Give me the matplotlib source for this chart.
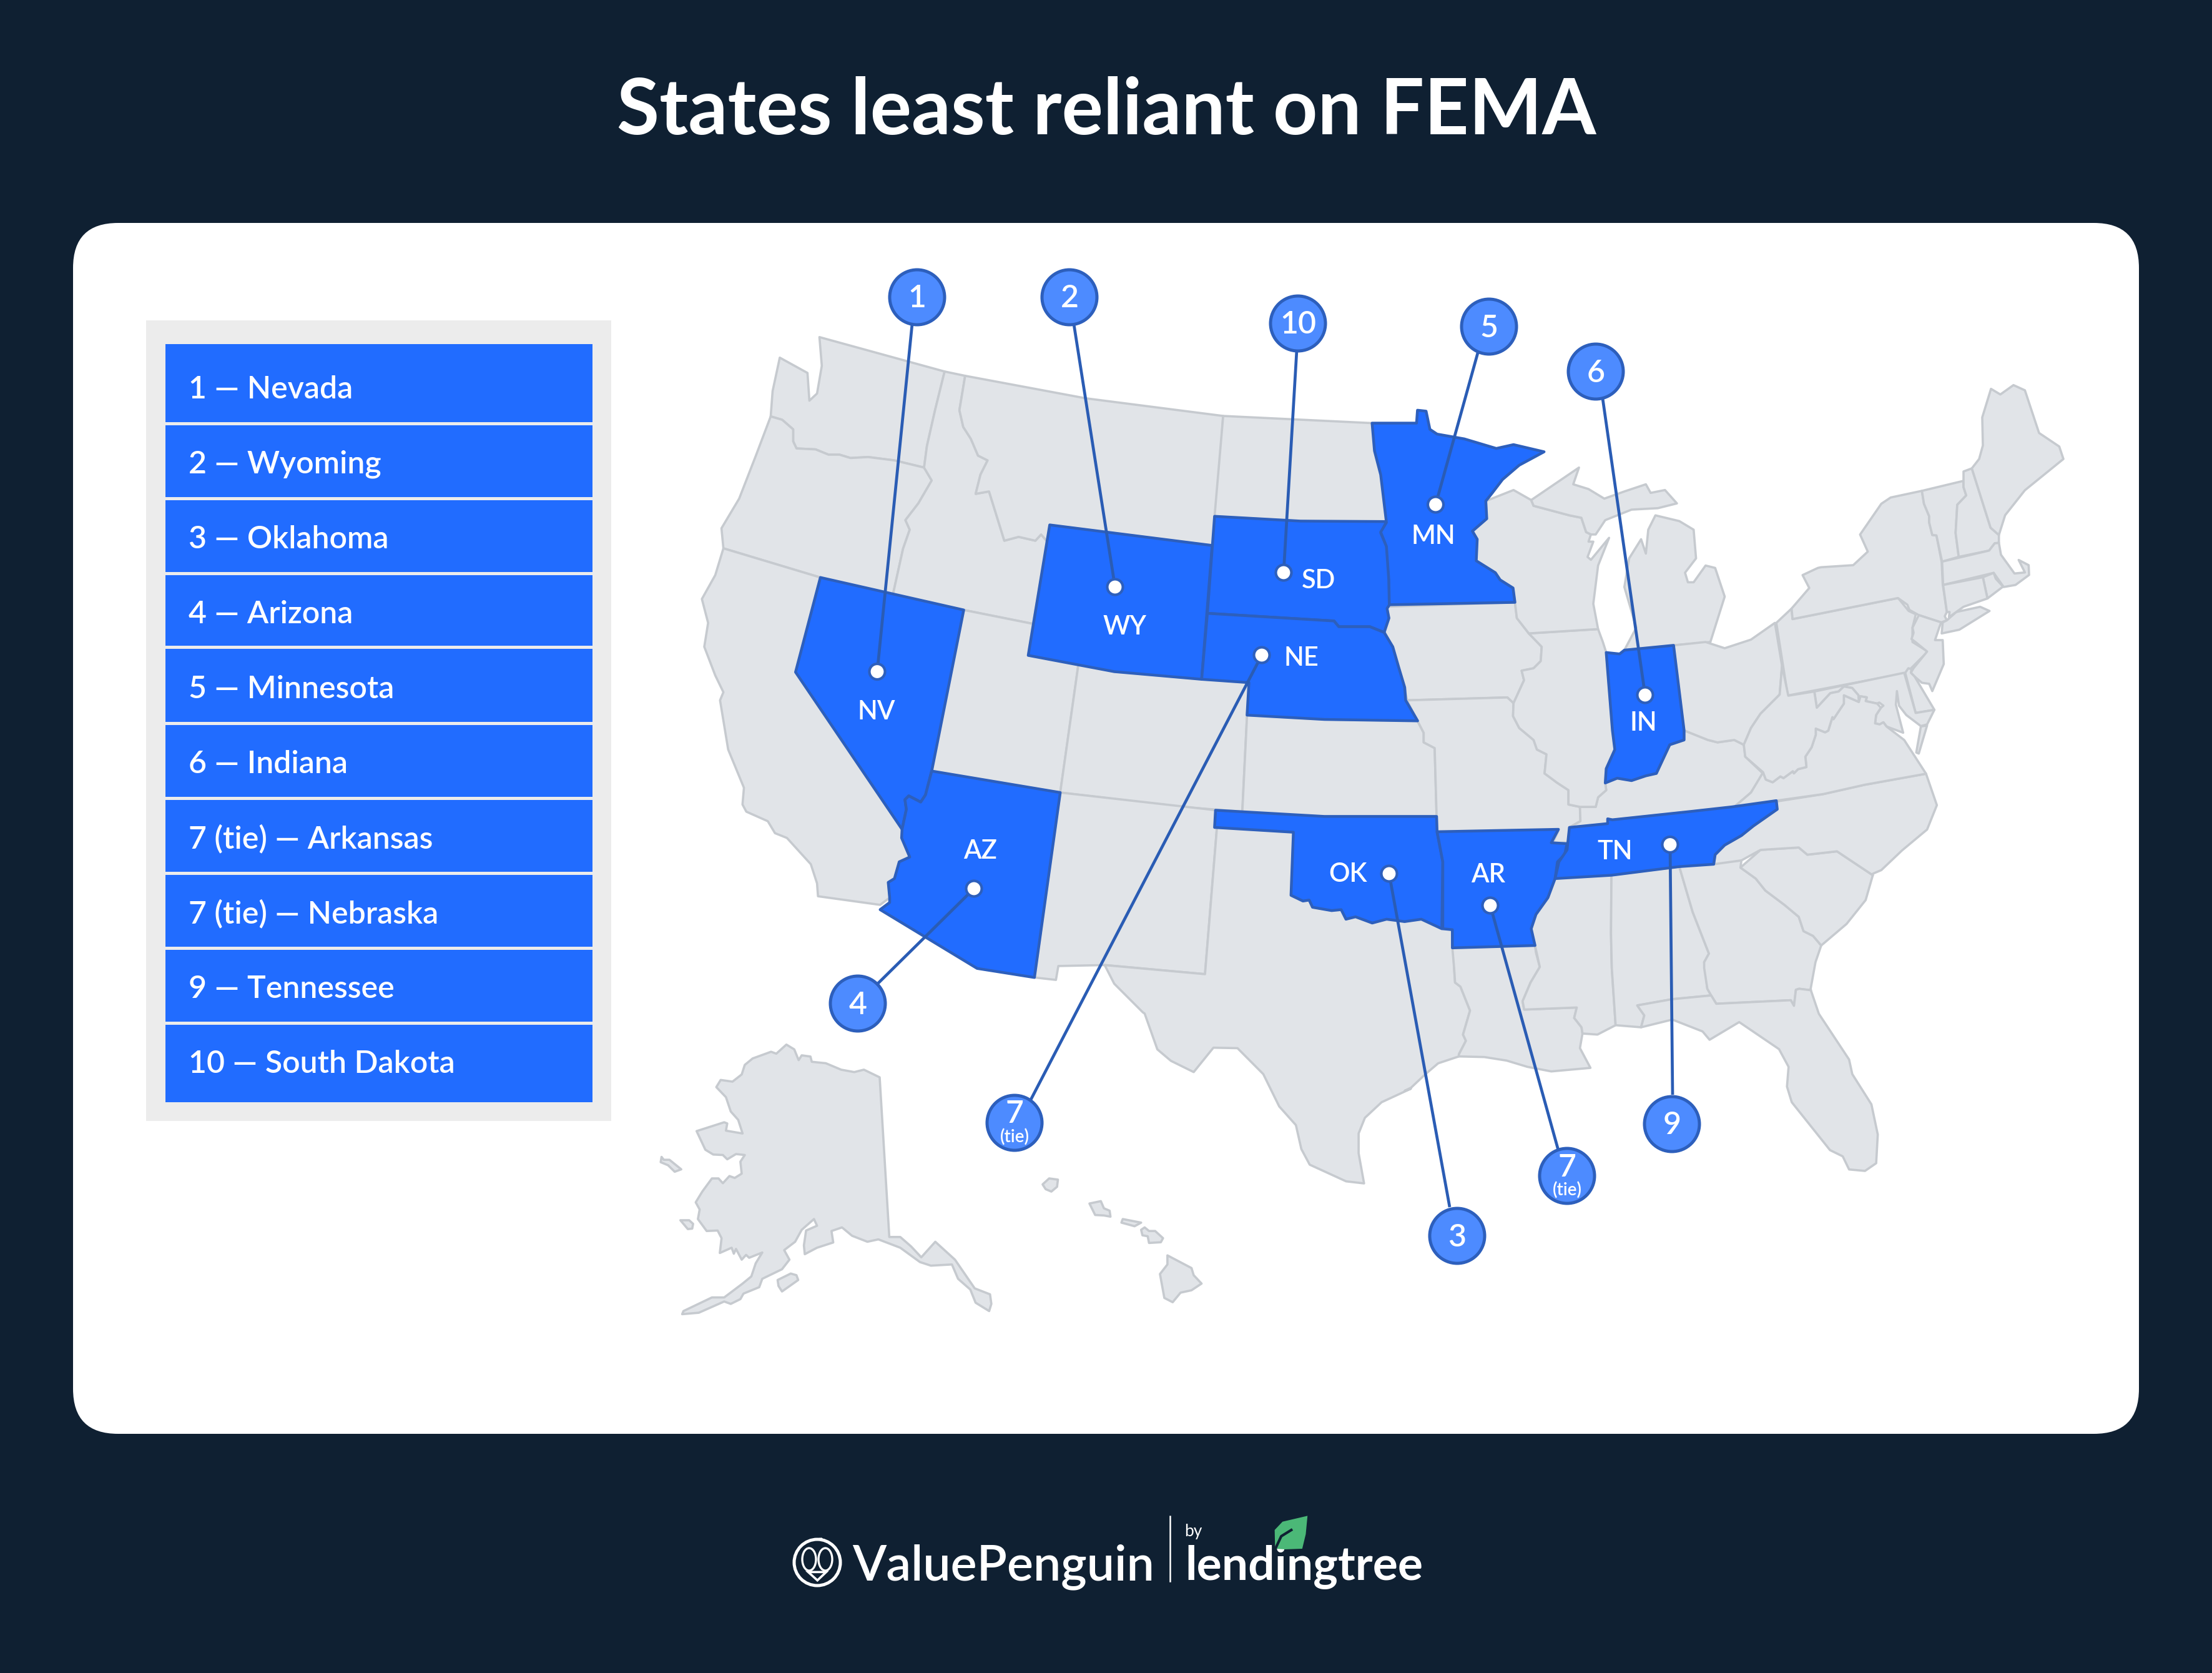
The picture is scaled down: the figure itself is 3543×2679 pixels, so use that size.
import matplotlib
matplotlib.use("Agg")
import matplotlib.pyplot as plt
from matplotlib.patches import Polygon, Circle, FancyBboxPatch, Rectangle, Ellipse

W, H = 3543, 2679
BG = "#0f2032"; FILL = "#e1e4e8"; EDGE = "#c6cacf"; BLUE = "#216cff"
BLUE_EDGE = "#2d5fbc"; BUBBLE = "#4d8bff"; LEADER = "#2a5cb4"

TITLE = "States least reliant on FEMA"
RANK_LABELS = ["1 — Nevada", "2 — Wyoming", "3 — Oklahoma", "4 — Arizona", "5 — Minnesota",
               "6 — Indiana", "7 (tie) — Arkansas", "7 (tie) — Nebraska", "9 — Tennessee",
               "10 — South Dakota"]
ROW_TOP = [551, 681, 801, 921, 1039, 1161, 1281, 1401, 1521, 1641]
ROW_BOTTOM = [676, 796, 916, 1034, 1156, 1276, 1396, 1516, 1636, 1765]
ROW_BASE = [638, 757, 878, 998, 1118, 1238, 1358, 1478, 1598, 1718]

# converters from the traced crops to figure pixels
def c(ox, oy, sx, sy):
    return lambda pts: [(ox + x / sx, oy + y / sy) for x, y in pts]
a1 = c(1050, 500, 1.3067, 1.3067)
a2 = c(2200, 500, 1.3067, 1.3067)
a3 = c(1000, 1600, 1.4255, 2.613)
a6 = c(1550, 1720, 1.4933, 3.0)
a7 = c(2250, 1550, 1.96, 3.0)
a8 = c(2900, 580, 3.0, 3.0)
a9 = c(2820, 1000, 3.0, 3.0)
a_logo = c(1230, 2400, 1.4255, 3.0)

WA = a1([(260,95),(318,127),(322,185),(338,170),(348,112),(343,52),(605,124),(585,205),(568,280),(562,325),(500,310),(445,303),(408,305),(385,298),(362,298),(335,287),(295,285),(288,270),(288,245),(265,225),(241,218),(245,165)])
OR = a1([(241,218),(265,225),(288,245),(288,270),(295,285),(335,287),(362,298),(385,298),(408,305),(445,303),(500,310),(562,325),(578,352),(550,400),(523,435),(532,455),(518,495),(497,590),(345,555),(142,494),(138,452),(175,390),(210,300)])
ID = a1([(605,124),(648,133),(636,205),(644,240),(660,265),(675,300),(695,310),(680,340),(670,380),(698,375),(712,420),(730,478),(760,470),(795,478),(807,465),(820,480),(790,652),(645,623),(497,590),(518,495),(532,455),(523,435),(550,400),(578,352),(562,325),(568,280),(585,205)])
MT = a1([(648,133),(900,180),(1188,217),(1173,427),(1165,488),(825,445),(820,480),(807,465),(795,478),(760,470),(730,478),(712,420),(698,375),(670,380),(680,340),(695,310),(675,300),(660,265),(644,240),(636,205)])
ND = a1([(1188,217),(1500,232),(1505,290),(1518,340),(1530,440),(1350,437),(1170,427)])
CA = a1([(142,494),(345,555),(293,753),(516,1082),(515,1100),(532,1140),(510,1150),(500,1185),(487,1193),(490,1225),(470,1240),(340,1222),(338,1195),(325,1155),(275,1100),(250,1090),(235,1065),(190,1045),(182,1030),(185,995),(152,915),(135,812),(142,795),(125,760),(102,700),(110,650),(97,600),(125,550)])
UT = a1([(645,623),(790,652),(780,718),(885,737),(847,1005),(578,960)])
CO = a1([(885,737),(960,752),(1143,768),(1242,775),(1238,843),(1228,1045),(1100,1035),(847,1005)])
NM = a1([(847,1005),(1173,1042),(1170,1078),(1175,1078),(1150,1385),(940,1366),(843,1368),(838,1397),(793,1392)])
KS = a1([(1238,843),(1400,852)]) + a2([(92,855),(105,880),(105,900),(128,912),(132,1055)]) + a1([(1400,1055),(1228,1047)])
TX = a1([(1175,1078),(1335,1088),(1330,1220),(1355,1232),(1368,1230),(1375,1245),(1415,1252),(1435,1250),(1445,1270),(1465,1265),(1500,1278),(1530,1270)]) + a2([(65,1275),(100,1270),(143,1290),(165,1292)]) + a7([(155,0),(158,70),(175,90),(205,205),(183,320),(192,350),(170,415),(170,425),(105,458),(65,510),(20,575),(0,590)]) + a6([(1060,70),(990,135),(950,210),(935,285),(935,380),(948,525),(905,515),(818,435),(798,360),(785,245),(745,155),(707,0)]) + a3([(1400,205),(1345,203),(1300,305),(1248,258),(1217,210),(1188,60)]) + a1([(1020,1465),(960,1405),(940,1366),(1150,1385)])
LA = a2([(165,1330),(338,1325),(340,1340),(348,1370)]) + a7([(395,70),(370,160),(375,200),(540,190),(532,240),(555,285),(558,315),(550,385),(583,480),(460,497),(385,475),(320,445),(250,428),(170,425),(170,415),(192,350),(183,320),(205,205),(175,90),(158,70),(155,0)])
MS = a2([(380,1185),(498,1178),(497,1300)]) + a7([(650,0),(662,275),(605,320),(558,315),(555,285),(532,240),(540,190),(375,200),(370,160),(395,70)]) + a2([(348,1370),(338,1325),(330,1290),(340,1260),(365,1225)])
AL = a2([(498,1178),(640,1160),(668,1255),(702,1342),(692,1360)]) + a7([(950,100),(962,132),(840,150),(730,180),(752,228),(742,285),(662,275),(650,0)]) + a2([(497,1300)])
GA = a2([(640,1160),(770,1147),(768,1162),(800,1185),(820,1210),(860,1240),(890,1265),(900,1295),(920,1305),(937,1325),(925,1360),(915,1415)]) + a7([(1275,107),(1238,100),(1228,105),(1222,182),(1212,155),(978,172),(962,132),(950,100),(940,0)]) + a2([(692,1360),(702,1342),(668,1255)])
FL = a7([(730,180),(840,150),(962,132),(978,172),(1212,155),(1222,182),(1228,105),(1238,100),(1275,107),(1300,220),(1395,440),(1405,510),(1465,655),(1485,800),(1480,938),(1445,975),(1395,968),(1375,905),(1335,875),(1215,645),(1200,570),(1205,475),(1175,390),(1050,260),(957,345),(935,305),(840,248),(742,285),(752,228)])
SC = a2([(768,1162),(810,1125),(890,1120),(908,1135),(970,1128),(1045,1178),(1030,1230),(990,1280),(937,1325),(920,1305),(900,1295),(890,1265),(860,1240),(820,1210),(800,1185)])
NC = a9([(78,850),(300,815),(500,770),(795,717),(847,868),(800,985),(680,1085),(580,1180),(540,1197)]) + a2([(1045,1178),(970,1128),(908,1135),(890,1120),(810,1125),(770,1147),(712,1155),(715,1135),(735,1115),(770,1095),(795,1075),(845,1040),(843,1022)])
IA = a2([(28,616),(296,607),(300,640),(325,672),(352,700),(350,730),(335,745),(310,750),(315,770),(293,818),(280,806),(70,812),(65,785),(53,745),(40,700),(22,667),(32,640)])
MO = a2([(70,812),(280,806),(293,818),(292,845),(305,870),(335,895),(342,915),(362,925),(358,965),(385,985),(408,1000),(408,1030),(432,1035),(433,1065),(410,1078),(407,1110),(375,1110),(387,1085),(133,1087),(132,1055),(128,912),(105,900),(105,880),(92,855)])
KY = a2([(410,1078),(433,1065),(432,1035),(465,1035),(470,1015),(487,1000),(485,985),(510,975),(540,980),(570,970),(592,965),(620,905),(650,895),(650,875),(700,895),(720,900),(755,895),(775,905),(778,930),(815,965),(790,1005),(755,1035),(660,1045),(500,1062),(490,1060),(490,1070)])
IL = a2([(325,672),(470,663),(480,690),(487,712),(500,875),(505,915),(487,955),(485,985),(487,1000),(470,1015),(465,1035),(432,1035),(408,1030),(408,1000),(385,985),(358,965),(362,925),(342,915),(335,895),(305,870),(292,845),(293,818),(315,770),(310,750),(335,745),(350,730),(352,700)])
WI = a2([(235,395),(293,372),(330,393),(335,405),(410,425),(435,430),(445,460),(455,465),(450,480),(460,480),(448,512),(455,518),(493,472),(470,530),(460,610),(470,663),(325,672),(300,640),(296,607),(292,577),(265,560),(255,545),(215,520),(217,475),(207,458),(237,432)])
MI_UPPER = a2([(330,393),(430,325),(418,360),(450,370),(483,390),(525,375),(570,360),(580,378),(610,372),(635,400),(595,410),(540,413),(485,435),(465,465),(455,465),(445,460),(435,430),(410,425),(335,405)])
MI_LOWER = a2([(590,425),(640,437),(670,455),(675,515),(652,545),(658,565),(670,565),(695,530),(715,535),(735,595),(705,690),(628,697),(525,707),(550,660),(525,575),(535,515),(560,475),(570,505),(575,455)])
OH = a2([(628,697),(695,690),(735,703),(790,685),(840,650),(855,740),(850,800),(810,840),(790,870),(775,905),(755,895),(720,900),(700,895),(650,875)])
PA = a2([(843,650),(875,620),(877,642),(1098,598),(1120,625),(1135,632),(1128,660),(1128,690),(1160,710),(1115,755),(867,802)])
NY = a2([(875,620),(912,577),(898,550),(930,535)]) + a8([(50,985),(205,975),(275,910),(238,828),(340,680),(385,650),(535,618),(545,680),(570,740),(570,770),(585,830),(605,832),(630,960),(635,1065),(655,1200),(645,1220),(655,1240),(628,1250),(520,1215),(475,1190),(465,1165),(420,1133)]) + a2([(877,642)])
LONG_ISLAND = a8([(635,1250),(655,1240),(700,1200),(815,1175),(860,1195),(715,1285),(630,1303)])
VT = a8([(535,618),(735,570),(735,600),(748,640),(705,685),(697,820),(712,935),(632,958),(605,832),(585,830),(570,770),(570,740),(545,680)])
NH = a8([(735,525),(775,510),(865,795),(905,830),(905,868),(885,870),(858,905),(712,935),(697,820),(705,685),(748,640),(735,600)])
ME = a8([(775,510),(810,465),(828,400),(825,265),(867,128),(912,155),(975,110),(1030,135),(1098,340),(1195,405),(1215,465),(1030,615),(935,735),(905,830),(865,795)])
MA = a8([(632,958),(858,905),(885,870),(905,868),(915,925),(980,1015),(1030,1010),(1000,950),(1048,975),(1050,1022),(985,1070),(928,1080),(880,1012),(637,1070)])
RI = a8([(828,1033),(880,1012),(890,1040),(925,1078),(850,1135)])
CT = a8([(637,1070),(828,1033),(850,1135),(735,1175),(665,1225),(668,1200),(655,1200)])
NJ = a8([(520,1215),(628,1250)]) + a9([(860,10),(838,75),(875,75),(880,190),(825,320),(810,285),(775,280),(740,250),(722,232),(735,210),(800,130),(745,85),(725,70),(735,40)]) + a8([(490,1275)])
DE = a9([(695,232),(710,210),(725,215),(722,232),(740,250),(835,410),(745,425)])
MD = a9([(258,322),(690,232),(745,425),(835,410),(800,480),(770,488),(700,435),(665,390),(655,320),(650,385),(685,520),(605,490),(590,470),(572,480),(550,475),(555,435),(578,400),(590,390),(570,375),(560,380),(505,368),(510,350),(480,345),(472,372),(470,340),(440,305),(400,298),(375,322),(335,330),(270,400)])
VA_SHORE = a9([(770,490),(800,485),(760,620),(748,615)])
VA = a9([(795,717),(690,555),(605,490),(590,470),(572,480),(550,475),(555,435),(578,400),(560,380),(505,368),(510,350),(480,345),(472,372),(400,340),(400,380),(350,455),(345,445),(325,510),(310,518),(265,500),(265,530),(245,590),(215,635),(220,685),(180,695),(160,715),(155,705),(110,738),(95,730),(58,758),(25,745),(12,710)]) + a2([(790,1005),(755,1035),(843,1022)]) + a9([(300,815),(500,770)])
WV = a9([(133,342),(258,322),(270,400),(335,330),(375,322),(400,298),(440,305),(470,340),(472,372),(400,340),(400,380),(350,455),(345,445),(325,510),(310,518),(265,500),(265,530),(245,590),(215,635),(220,685),(180,695),(160,715),(155,705),(110,738),(95,730),(58,758),(25,745),(12,710)]) + a2([(778,930),(775,905),(790,870),(810,840),(850,800),(855,740)])
AK = a3([(370,190),(388,210),(398,255),(405,235),(425,240),(428,262),(460,268),(495,295),(525,305),(547,295),(583,327),(605,995),(630,995),(655,1035),(678,1080),(710,1015),(755,1090),(800,1210),(835,1235),(838,1275),(833,1305),(802,1270),(790,1215),(762,1170),(748,1110),(700,1115),(675,1100),(630,1040),(580,1005),(555,1015),(520,990),(497,955),(473,970),(477,1018),(440,1040),(412,1067),(410,1030),(415,968),(440,948),(433,920),(405,965),(390,1015),(365,1050),(377,1090),(360,1130),(315,1170),(308,1205),(272,1232),(265,1255),(243,1275),(228,1265),(170,1312),(132,1318),(135,1305),(200,1248),(228,1248),(270,1190),(290,1160),(300,1105),(315,1060),(285,1082),(278,1070),(268,1090),(255,1045),(250,1065),(245,1040),(218,1062),(222,1000),(213,968),(188,970),(168,920),(172,880),(163,850),(178,805),(200,750),(215,750),(225,770),(240,740),(252,748),(268,730),(265,680),(275,652),(255,648),(235,670),(225,652),(203,650),(185,630),(165,552),(228,515),(235,520),(232,550),(270,562),(260,505),(243,470),(232,410),(210,368),(220,338),(247,345),(268,315),(275,275),(293,248),(335,220),(347,228)])
AK_ISLE_1 = a3([(85,660),(90,672),(103,672),(130,712),(115,722),(100,695),(83,682)])
AK_ISLE_2 = a3([(128,925),(148,925),(157,940),(155,960),(145,962)])
AK_ISLE_3 = a3([(350,1175),(380,1148),(393,1155),(397,1175),(360,1223),(352,1200)])
HI_1 = a3([(955,775),(970,750),(990,755),(988,785),(975,805),(962,795)])
HI_2 = a3([(1062,855),(1088,845),(1095,875),(1108,885),(1110,910),(1095,905),(1075,903)])
HI_3 = a3([(1135,935),(1138,920),(1180,935),(1165,950)])
HI_4 = a3([(1180,965),(1188,955),(1198,970),(1212,970),(1230,1000),(1225,1017),(1198,1020),(1195,992),(1183,988)])
HI_5 = a3([(1240,1072),(1295,1125),(1300,1155),(1318,1190),(1295,1218),(1270,1228),(1252,1268),(1233,1250),(1223,1150),(1240,1110)])

GREY_STATES = [WA, OR, ID, MT, ND, CA, UT, CO, NM, KS, TX, LA, MS, AL, GA, FL, SC, NC, IA, MO, KY, IL, WI,
               MI_UPPER, MI_LOWER, OH, PA, NY, LONG_ISLAND, VT, NH, ME, MA, RI, CT, NJ, DE, MD, VA_SHORE,
               VA, WV, AK, AK_ISLE_1, AK_ISLE_2, AK_ISLE_3, HI_1, HI_2, HI_3, HI_4, HI_5]

NV = a1([(345,555),(645,623),(578,960),(565,1010),(555,1025),(530,1012),(522,1020),(525,1040),(516,1082),(293,753)])
WY = a1([(825,445),(1165,488),(1143,768),(960,752),(780,718)])
SD = a1([(1170,427),(1350,437),(1530,438),(1518,462),(1530,490),(1535,540),(1536,612),(1531,620),(1535,640),(1525,670),(1495,658),(1430,658),(1420,646),(1155,630)])
NE = a1([(1155,630),(1420,646),(1430,658),(1495,658),(1525,670),(1543,700),(1556,745),(1568,785),(1570,812),(1595,855),(1400,852),(1238,843),(1242,775),(1143,768)])
AZ = a1([(578,960),(847,1005),(793,1392),(673,1373),(470,1250),(490,1235),(490,1225),(487,1193),(500,1185),(510,1150),(532,1140),(515,1100),(516,1082),(525,1040),(522,1020),(530,1012),(555,1025),(565,1010)])
OK = a1([(1172,1042),(1400,1055)]) + a2([(132,1055),(133,1087),(145,1150),(143,1290),(100,1270),(65,1275)]) + a1([(1530,1270),(1500,1278),(1465,1265),(1445,1270),(1435,1250),(1415,1252),(1375,1245),(1368,1230),(1355,1232),(1330,1220),(1335,1088),(1170,1078)])
MN = a2([(-3,232),(90,232),(92,205),(110,207),(118,245),(133,255),(190,265),(257,285),(293,277),(357,292),(305,320),(270,350),(247,380),(235,395),(237,432),(207,458),(217,475),(215,520),(255,545),(265,560),(292,577),(296,607),(33,612),(32,560),(27,490),(15,460),(27,440),(15,340),(2,290)])
IN = a2([(487,712),(515,715),(525,707),(628,697),(650,875),(650,895),(620,905),(592,965),(570,970),(540,980),(510,975),(485,985),(487,955),(505,915),(500,875)])
AR = a2([(133,1087),(387,1082),(372,1110),(405,1112),(400,1135),(385,1150),(380,1185),(365,1225),(340,1260),(330,1290),(338,1325),(165,1330),(165,1292),(145,1290),(145,1150)])
TN = a2([(843,1022),(845,1040),(795,1075),(770,1095),(735,1115),(715,1135),(712,1155),(640,1160),(498,1178),(380,1185),(388,1150),(405,1125),(410,1078),(490,1070),(490,1060),(500,1062),(660,1045),(750,1035)])
BLUE_STATES = [NV, WY, SD, NE, AZ, OK, MN, IN, AR, TN]

DOT_NAMES = ["NV", "WY", "SD", "NE", "AZ", "OK", "MN", "IN", "AR", "TN"]
DOT_X = [1405, 1786, 2056, 2021, 1560, 2225, 2299.5, 2635, 2387, 2675]
DOT_Y = [1075.5, 940, 917, 1049, 1423, 1399, 808, 1113, 1450, 1352.5]
LABEL_X = [1404, 1802, 2112, 2084, 1570, 2159, 2296, 2632, 2384, 2587]
LABEL_Y = [1140, 1004, 930, 1054, 1363, 1400, 859, 1158, 1401, 1364]
BUBBLE_TEXT = ["1", "2", "10", "7", "4", "3", "5", "6", "7", "9"]
BUBBLE_X = [1469, 1713, 2079, 1625, 1374, 2334, 2385, 2556, 2510, 2678]
BUBBLE_Y = [476, 476, 518, 1798, 1607, 1979, 523, 595, 1883, 1800]
LEADER_END_X = [1461, 1720, 2077, 1651, 1406, 2322, 2367, 2567, 2496, 2679]
LEADER_END_Y = [519, 519, 561, 1761, 1575, 1933, 565, 638, 1842, 1753]

LEAF = a_logo([(1232,82),(1228,170),(1220,240),(1180,243),(1158,240),(1157,150),(1175,110)])
STEM = a_logo([(1158,243),(1172,180),(1195,150)])
BEAK = a_logo([(92,352),(133,352),(113,392)])
CREST = a_logo([(112,195),(122,192),(138,222),(125,225)])

fig = plt.figure(figsize=(W / 100, H / 100), dpi=100, facecolor=BG)
ax = fig.add_axes([0, 0, 1, 1])
ax.set_xlim(0, W); ax.set_ylim(H, 0); ax.axis("off")
plt.rcParams["font.family"] = ["Lato", "DejaVu Sans"]

# header, panel
ax.text(1772, 215, TITLE, color="white", fontsize=89.5, fontweight="bold", ha="center", va="baseline")
ax.add_patch(FancyBboxPatch((117, 357), 3309, 1939, boxstyle="round,pad=0,rounding_size=72",
                            fc="white", ec="none", zorder=1))

# legend
ax.add_patch(Rectangle((234, 513), 745, 1282, fc="#ececec", ec="none", zorder=2))
for top, bot, base, lab in zip(ROW_TOP, ROW_BOTTOM, ROW_BASE, RANK_LABELS):
    ax.add_patch(Rectangle((265, top), 684, bot - top, fc=BLUE, ec="none", zorder=3))
    ax.text(302, base, lab, color="white", fontsize=36, fontweight="semibold", ha="left", va="baseline", zorder=4)

# map
for s in GREY_STATES:
    ax.add_patch(Polygon(s, closed=True, fc=FILL, ec=EDGE, lw=2.6, joinstyle="round", zorder=5))
for s in BLUE_STATES:
    ax.add_patch(Polygon(s, closed=True, fc=BLUE, ec=BLUE_EDGE, lw=3.2, joinstyle="round", zorder=6))

# leaders, dots, bubbles
for name, lx, ly in zip(DOT_NAMES, LABEL_X, LABEL_Y):
    ax.text(lx, ly, name, color="white", fontsize=30, fontweight="semibold", ha="center", va="center", zorder=11)
for dx, dy, ex, ey in zip(DOT_X, DOT_Y, LEADER_END_X, LEADER_END_Y):
    ax.plot([dx, ex], [dy, ey], color=LEADER, lw=3.4, zorder=8, solid_capstyle="butt")
for dx, dy in zip(DOT_X, DOT_Y):
    ax.add_patch(Circle((dx, dy), 12.5, fc="white", ec=BLUE_EDGE, lw=3, zorder=9))
for t, bx, by in zip(BUBBLE_TEXT, BUBBLE_X, BUBBLE_Y):
    ax.add_patch(Circle((bx, by), 44, fc=BUBBLE, ec=BLUE_EDGE, lw=3.6, zorder=10))
    if t == "7":
        ax.text(bx, by - 14, t, color="white", fontsize=36, fontweight="semibold", ha="center", va="center", zorder=11)
        ax.text(bx, by + 23, "(tie)", color="white", fontsize=20, fontweight="semibold", ha="center", va="center", zorder=11)
    else:
        ax.text(bx, by + 2, t, color="white", fontsize=36, fontweight="semibold", ha="center", va="center", zorder=11)

# logo
ax.add_patch(Polygon(CREST, closed=True, fc=BG, ec="white", lw=2.4, zorder=3))
ax.add_patch(Circle((1309, 2502), 37, fc=BG, ec="white", lw=3.6, zorder=4))
ax.add_patch(Ellipse((1296, 2497), 22, 36, fc=BG, ec="white", lw=2.4, zorder=5))
ax.add_patch(Ellipse((1322, 2497), 22, 36, fc=BG, ec="white", lw=2.4, zorder=5))
ax.add_patch(Polygon(BEAK, closed=True, fc=BG, ec="white", lw=2.6, zorder=6))
ax.text(1365, 2530, "ValuePenguin", color="white", fontsize=57, fontweight="semibold", ha="left", va="baseline")
ax.plot([1873.5, 1873.5], [2428, 2532], color="white", lw=1.8)
ax.text(1897, 2460, "by", color="white", fontsize=19, ha="left", va="baseline")
ax.text(1898, 2530, "lendingtree", color="white", fontsize=54, fontweight="bold", ha="left", va="baseline")
ax.add_patch(Polygon(LEAF, closed=True, fc="#4bb877", ec="none", zorder=3))
ax.plot([p[0] for p in STEM], [p[1] for p in STEM], color=BG, lw=3, zorder=4)

fig.savefig("out.png", dpi=100, facecolor=BG)
